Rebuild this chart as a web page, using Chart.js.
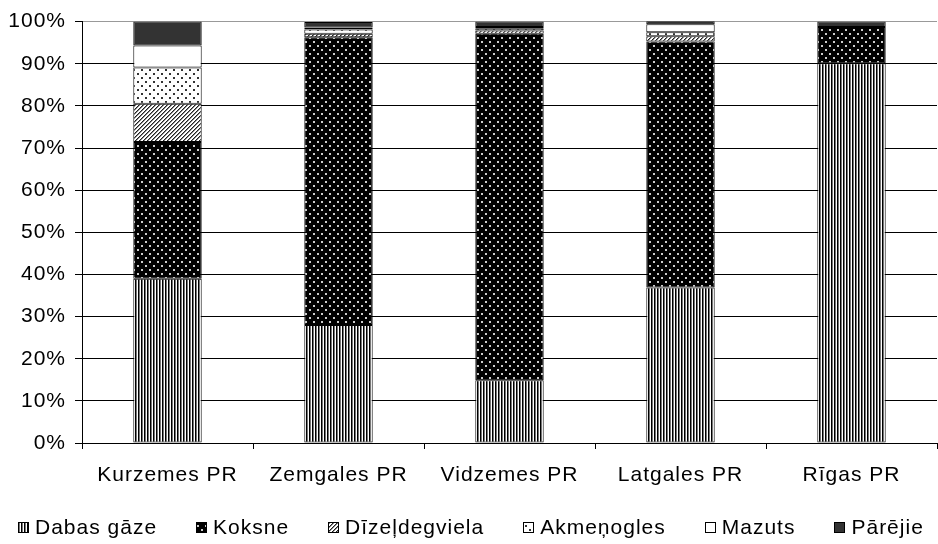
<!DOCTYPE html>
<html>
<head>
<meta charset="utf-8">
<script src="https://cdn.jsdelivr.net/npm/chart.js@4"></script>
<style>
  body { margin: 0; background: #fff; }
  canvas { display: block; }
</style>
</head>
<body>
<canvas id="chart" width="938" height="544"></canvas>
<script>
const categories = ['Kurzemes PR', 'Zemgales PR', 'Vidzemes PR', 'Latgales PR', 'Rīgas PR']
const dabasGaze = [39, 28, 14.9, 36.9, 90.1]
const koksne = [32.4, 68.3, 82.2, 58.4, 8.6]
const dizeldegviela = [9.1, 0.8, 0.8, 1.2, 0]
const akmenogles = [8.6, 1, 0.5, 1, 0]
const mazuts = [5.2, 0.5, 0.3, 1.9, 0]
const parejie = [5.7, 1.3, 1.3, 0.8, 1.3]
const yTicks = [0, 10, 20, 30, 40, 50, 60, 70, 80, 90, 100]

const FONT = "'Liberation Sans', Arial, sans-serif"
const FONT_SIZE = 21

// small tiles used as fill patterns
function makePattern(size, draw) {
  const c = document.createElement('canvas')
  c.width = size
  c.height = size
  const g = c.getContext('2d')
  draw(g)
  return g.createPattern(c, 'repeat')
}

const ctx0 = document.getElementById('chart').getContext('2d')

const stripes = makePattern(3, g => {
  g.fillStyle = '#fff'; g.fillRect(0, 0, 3, 3)
  g.fillStyle = '#000'; g.fillRect(0, 0, 1, 3)
  g.fillStyle = '#777'; g.fillRect(1, 0, 1, 3)
})
const whiteDots = makePattern(8, g => {
  g.fillStyle = '#000'; g.fillRect(0, 0, 8, 8)
  g.fillStyle = '#ccc'
  g.fillRect(1, 1, 2, 2)
  g.fillRect(5, 5, 2, 2)
})
const hatch = makePattern(4, g => {
  g.fillStyle = '#fff'; g.fillRect(0, 0, 4, 4)
  g.fillStyle = '#222'
  for (let i = 0; i < 4; i++) g.fillRect(i, 3 - i, 1, 1)
  g.fillStyle = '#888'
  for (let i = 0; i < 4; i++) g.fillRect((i + 1) % 4, 3 - i, 1, 1)
})
const blackDots = makePattern(8, g => {
  g.fillStyle = '#fff'; g.fillRect(0, 0, 8, 8)
  g.fillStyle = '#333'
  g.fillRect(1, 1, 2, 2)
  g.fillRect(5, 5, 2, 2)
})

function ds(label, data, fill) {
  return {
    label, data,
    backgroundColor: fill,
    borderColor: '#000',
    borderWidth: 1,
    borderSkipped: false,
    barPercentage: 0.4,
    categoryPercentage: 1
  }
}

// the reference text is a bit loosely spaced
const spacing = {
  id: 'spacing',
  beforeUpdate(chart) { chart.ctx.letterSpacing = '1px' },
  beforeDraw(chart) { chart.ctx.letterSpacing = '1px' }
}

// legend drawn under the axis, centered, from the dataset labels/fills
const bottomLegend = {
  id: 'bottomLegend',
  afterDraw(chart) {
    const c = chart.ctx
    const items = chart.data.datasets
    const box = 11, gapText = 6, gap = 39
    c.save()
    c.font = FONT_SIZE + 'px ' + FONT
    const widths = items.map(d => box + gapText + c.measureText(d.label).width)
    const total = widths.reduce((a, b) => a + b, 0) + gap * (items.length - 1)
    let x = Math.round((chart.width - total) / 2) + 2
    const y = 527
    c.textBaseline = 'middle'
    items.forEach((d, i) => {
      const bx = Math.round(x)
      c.fillStyle = d.backgroundColor
      c.fillRect(bx, y - 5, box, box)
      c.strokeStyle = '#000'
      c.lineWidth = 1
      c.strokeRect(bx + 0.5, y - 5 + 0.5, box - 1, box - 1)
      c.fillStyle = '#000'
      c.fillText(d.label, x + box + gapText, y + 1)
      x += widths[i] + gap
    })
    c.restore()
  }
}

new Chart(ctx0, {
  type: 'bar',
  data: {
    labels: categories,
    datasets: [
      ds('Dabas gāze', dabasGaze, stripes),
      ds('Koksne', koksne, whiteDots),
      ds('Dīzeļdegviela', dizeldegviela, hatch),
      ds('Akmeņogles', akmenogles, blackDots),
      ds('Mazuts', mazuts, '#fff'),
      ds('Pārējie', parejie, '#333')
    ]
  },
  options: {
    responsive: false,
    animation: false,
    layout: { padding: { top: 20, right: 1, left: 0, bottom: 0 } },
    plugins: {
      legend: { display: false },
      tooltip: { enabled: false }
    },
    scales: {
      x: {
        stacked: true,
        grid: {
          offset: true,
          drawOnChartArea: false,
          tickLength: 6,
          color: '#000'
        },
        border: { color: '#000' },
        ticks: { color: '#000', padding: 14, font: { family: FONT, size: FONT_SIZE } },
        afterFit: s => { s.height = 101 }
      },
      y: {
        stacked: true,
        min: 0,
        max: 100,
        afterBuildTicks: s => { s.ticks = yTicks.map(v => ({ value: v })) },
        grid: {
          color: c => c.tick && c.tick.value === 100 ? '#999' : '#000',
          tickLength: 7,
          tickColor: '#000'
        },
        border: { color: '#000' },
        ticks: {
          color: '#000',
          padding: 9,
          font: { family: FONT, size: FONT_SIZE },
          callback: v => v + '%'
        },
        afterFit: s => { s.width = 82 }
      }
    }
  },
  plugins: [spacing, bottomLegend]
})
</script>
</body>
</html>
